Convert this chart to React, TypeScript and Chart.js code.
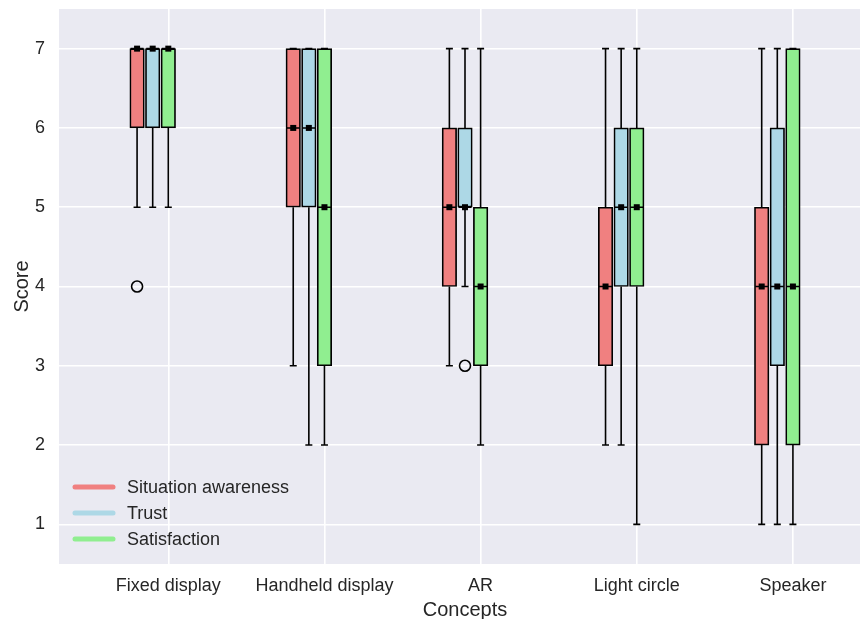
import React, { useEffect, useRef } from 'react';
import { Chart, registerables } from 'chart.js';
Chart.register(...registerables);

const categories = ['Fixed display', 'Handheld display', 'AR', 'Light circle', 'Speaker'];
const seriesNames = ['Situation awareness', 'Trust', 'Satisfaction'];
const seriesColors = ['#F08080', '#ADD8E6', '#90EE90'];
const seriesOffsets = [-0.2, -0.1, 0];

const saQ1 = [6, 5, 4, 3, 2];
const saQ3 = [7, 7, 6, 5, 5];
const saMedian = [7, 6, 5, 4, 4];
const saLow = [5, 3, 3, 2, 1];
const saHigh = [7, 7, 7, 7, 7];
const saOutliers = [{ cat: 0, value: 4 }];

const trustQ1 = [6, 5, 5, 4, 3];
const trustQ3 = [7, 7, 6, 6, 6];
const trustMedian = [7, 6, 5, 5, 4];
const trustLow = [5, 2, 4, 2, 1];
const trustHigh = [7, 7, 7, 7, 7];
const trustOutliers = [{ cat: 2, value: 3 }];

const satQ1 = [6, 3, 3, 4, 2];
const satQ3 = [7, 7, 5, 6, 7];
const satMedian = [7, 5, 4, 5, 4];
const satLow = [5, 2, 2, 1, 1];
const satHigh = [7, 7, 7, 7, 7];
const satOutliers: { cat: number; value: number }[] = [];

const yTickValues = [1, 2, 3, 4, 5, 6, 7];

const series = [
  { q1: saQ1, q3: saQ3, med: saMedian, lo: saLow, hi: saHigh, out: saOutliers },
  { q1: trustQ1, q3: trustQ3, med: trustMedian, lo: trustLow, hi: trustHigh, out: trustOutliers },
  { q1: satQ1, q3: satQ3, med: satMedian, lo: satLow, hi: satHigh, out: satOutliers },
];

const FONT = '"Liberation Sans", Arial, "DejaVu Sans", sans-serif';
const TEXT = '#262626';
const BOX_W = 13;
const CANVAS_W = 871;
const PLOT_RIGHT = 871;

const extrasPlugin = {
  id: 'boxExtras',
  afterLayout(chart: any) {
    const a = chart.chartArea;
    if (a.right < PLOT_RIGHT) {
      a.right = PLOT_RIGHT;
      a.width = a.right - a.left;
      const xs = chart.scales.x;
      xs.right = PLOT_RIGHT;
      xs.width = xs.right - xs.left;
      xs.configure();
    }
  },
  beforeDraw(chart: any) {
    const { ctx, chartArea: a } = chart;
    ctx.save();
    ctx.fillStyle = '#EAEAF2';
    ctx.fillRect(a.left, a.top, a.right - a.left, a.bottom - a.top);
    ctx.restore();
  },
  afterDatasetsDraw(chart: any) {
    const { ctx } = chart;
    const xs = chart.scales.x;
    const ys = chart.scales.y;
    ctx.save();
    ctx.strokeStyle = '#000';
    ctx.fillStyle = '#000';
    ctx.lineWidth = 1.6;
    series.forEach((s, si) => {
      categories.forEach((_, ci) => {
        const cx = xs.getPixelForValue(ci + seriesOffsets[si]);
        const yq1 = ys.getPixelForValue(s.q1[ci]);
        const yq3 = ys.getPixelForValue(s.q3[ci]);
        const ylo = ys.getPixelForValue(s.lo[ci]);
        const yhi = ys.getPixelForValue(s.hi[ci]);
        const ymed = ys.getPixelForValue(s.med[ci]);
        ctx.beginPath();
        ctx.moveTo(cx, yq3);
        ctx.lineTo(cx, yhi);
        ctx.moveTo(cx, yq1);
        ctx.lineTo(cx, ylo);
        ctx.moveTo(cx - 3.5, yhi);
        ctx.lineTo(cx + 3.5, yhi);
        ctx.moveTo(cx - 3.5, ylo);
        ctx.lineTo(cx + 3.5, ylo);
        ctx.moveTo(cx - BOX_W / 2, ymed);
        ctx.lineTo(cx + BOX_W / 2, ymed);
        ctx.stroke();
        ctx.fillRect(cx - 3, ymed - 3, 6, 6);
      });
    });
    const rows = [487, 513, 539];
    seriesNames.forEach((name, i) => {
      ctx.beginPath();
      ctx.lineCap = 'round';
      ctx.lineWidth = 5;
      ctx.strokeStyle = seriesColors[i];
      ctx.moveTo(75, rows[i]);
      ctx.lineTo(113, rows[i]);
      ctx.stroke();
      ctx.fillStyle = TEXT;
      ctx.font = `18px ${FONT}`;
      ctx.textBaseline = 'middle';
      ctx.textAlign = 'left';
      ctx.fillText(name, 127, rows[i] + 1);
    });
    ctx.restore();
  },
};

export default function App() {
  const ref = useRef<HTMLCanvasElement | null>(null);
  useEffect(() => {
    if (!ref.current) return;
    const datasets: any[] = series.map((s, si) => ({
      type: 'bar',
      label: seriesNames[si],
      data: categories.map((_, ci) => ({ x: ci + seriesOffsets[si], y: [s.q1[ci], s.q3[ci]] })),
      backgroundColor: seriesColors[si],
      borderColor: '#000',
      borderWidth: 1.7,
      borderSkipped: false,
      barThickness: BOX_W + 1.5,
      grouped: false,
    }));
    series.forEach((s, si) => {
      if (s.out.length === 0) return;
      datasets.push({
        type: 'scatter',
        label: seriesNames[si] + ' outliers',
        data: s.out.map((o) => ({ x: o.cat + seriesOffsets[si], y: o.value })),
        pointStyle: 'circle',
        pointRadius: 5.5,
        pointBackgroundColor: 'rgba(0,0,0,0)',
        pointBorderColor: '#000',
        pointBorderWidth: 1.6,
      });
    });
    const chart = new Chart(ref.current, {
      type: 'bar',
      data: { datasets },
      plugins: [extrasPlugin],
      options: {
        responsive: false,
        animation: false,
        layout: { padding: { top: 9, right: 0, left: 0, bottom: 0 } },
        plugins: { legend: { display: false }, tooltip: { enabled: false } },
        scales: {
          x: {
            type: 'linear',
            min: -0.7,
            max: 4.5,
            offset: false,
            afterBuildTicks: (scale: any) => {
              scale.ticks = categories.map((_, i) => ({ value: i }));
            },
            afterFit: (scale: any) => {
              scale.height = 55;
              scale.paddingLeft = 0;
              scale.paddingRight = 0;
              scale.paddingTop = 0;
              scale.paddingBottom = 0;
            },
            ticks: {
              callback: (v: any) => categories[v as number] ?? '',
              font: { family: FONT, size: 18 },
              color: TEXT,
              padding: 11,
              maxRotation: 0,
              autoSkip: false,
            },
            grid: { color: '#FFFFFF', lineWidth: 1.6, drawTicks: false, offset: false },
            border: { display: false },
            title: {
              display: true,
              text: 'Concepts',
              font: { family: FONT, size: 20 },
              color: TEXT,
              padding: { top: 0, bottom: -3 },
            },
          },
          y: {
            type: 'linear',
            min: 0.5,
            max: 7.5,
            afterBuildTicks: (scale: any) => {
              scale.ticks = yTickValues.map((v) => ({ value: v }));
            },
            afterFit: (scale: any) => {
              scale.width = 59;
              scale.paddingLeft = 0;
              scale.paddingRight = 0;
              scale.paddingTop = 0;
              scale.paddingBottom = 0;
            },
            ticks: {
              font: { family: FONT, size: 18 },
              color: TEXT,
              padding: 14,
            },
            grid: { color: '#FFFFFF', lineWidth: 1.6, drawTicks: false },
            border: { display: false },
            title: {
              display: true,
              text: 'Score',
              font: { family: FONT, size: 20 },
              color: TEXT,
              padding: { top: 10, bottom: 0 },
            },
          },
        },
      } as any,
    });
    return () => chart.destroy();
  }, []);
  return (
    <div style={{ position: 'absolute', left: 0, top: 0, width: 860, height: 619, overflow: 'hidden' }}>
      <canvas ref={ref} width={CANVAS_W} height={619} style={{ display: 'block' }} />
    </div>
  );
}
